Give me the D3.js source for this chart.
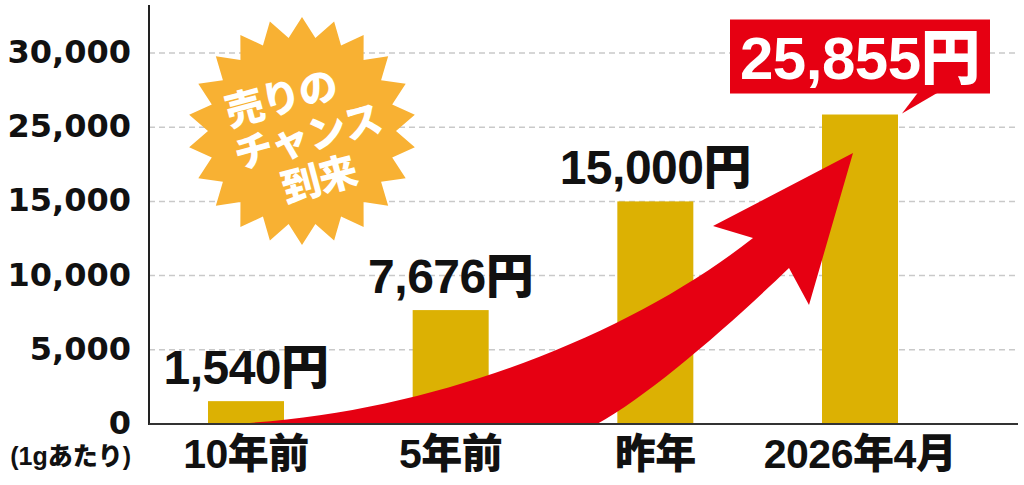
<!DOCTYPE html>
<html><head><meta charset="utf-8">
<script src="https://cdn.jsdelivr.net/npm/d3@7"></script>
<style>html,body{margin:0;padding:0;background:#fff;} svg{display:block}</style>
</head><body>
<svg id="chart" width="1024" height="485"></svg>
<script>
// ---- data ----
const categories = ["10年前", "5年前", "昨年", "2026年4月"];
const values = [1540, 7676, 15000, 25855];
const valueLabels = ["1,540円", "7,676円", "15,000円", "25,855円"];
const yTickValues = [0, 5000, 10000, 15000, 25000, 30000];
const yTickLabels = ["0", "5,000", "10,000", "15,000", "25,000", "30,000"];
const unitLabel = "(1gあたり)";
const burstLines = ["売りの", "チャンス", "到来"];

// ---- layout ----
const W = 1024, H = 485;
const axisX = 149, baseY = 424, topY = 5, rightX = 1018;
const tickStep = 74.2;
const barW = 76;
const GOLD = "#DCB103", RED = "#E60012", ORANGE = "#F8B133";
const LATIN = "'Liberation Sans', 'Noto Sans CJK JP', sans-serif";

const svg = d3.select("#chart");

const x = d3.scalePoint().domain(categories).range([246, 860]);
const y = d3.scaleLinear()
  .domain(yTickValues)
  .range(yTickValues.map((d, i) => baseY - i * tickStep));

// gridlines
svg.append("g").selectAll("line")
  .data(yTickValues.filter(d => d > 0))
  .join("line")
  .attr("x1", axisX).attr("x2", rightX)
  .attr("y1", d => y(d)).attr("y2", d => y(d))
  .attr("stroke", "#c9c9c9").attr("stroke-width", 1.5)
  .attr("stroke-dasharray", "6,4");

// starburst decoration
const cx = 302, cy = 131, R = 114, r = 94, N = 22;
const starPts = d3.range(2 * N).map(i => {
  const a = i * Math.PI / N - Math.PI / 2;
  const rr = i % 2 === 0 ? R : r;
  return [cx + rr * Math.cos(a), cy + rr * Math.sin(a)];
});
svg.append("path").attr("d", d3.line()(starPts) + "Z").attr("fill", ORANGE);
const burst = svg.append("g").attr("transform", `translate(${cx},${cy}) rotate(-15)`);
burst.selectAll("text").data(burstLines).join("text")
  .attr("x", (d, i) => i === 0 ? -12 : 4)
  .attr("y", (d, i) => -36 + i * 44 + 13)
  .attr("text-anchor", "middle")
  .attr("font-family", "'Noto Sans CJK JP', sans-serif")
  .attr("font-weight", 900).attr("font-size", 39)
  .attr("letter-spacing", -1)
  .attr("fill", "#fff")
  .text(d => d);

// bars
svg.append("g").selectAll("rect")
  .data(values)
  .join("rect")
  .attr("x", (d, i) => x(categories[i]) - barW / 2)
  .attr("width", barW)
  .attr("y", d => y(d))
  .attr("height", d => baseY - y(d))
  .attr("fill", GOLD);

// red arrow decoration (smooth bezier body + head)
const ap = d3.path();
ap.moveTo(230, 424);
ap.bezierCurveTo(430, 415, 630, 335, 753, 238);   // upper edge
ap.lineTo(713, 226);                               // left barb
ap.lineTo(853, 153);                               // tip
ap.lineTo(809, 305);                               // right barb
ap.lineTo(789, 268);
ap.bezierCurveTo(730, 325, 650, 395, 597, 424);    // lower edge
ap.closePath();
svg.append("path").attr("d", ap.toString()).attr("fill", RED);

// value labels (plain)
const lastIdx = values.length - 1;
svg.append("g").selectAll("text")
  .data(values.slice(0, lastIdx))
  .join("text")
  .attr("x", (d, i) => x(categories[i]))
  .attr("y", d => y(d) - 17)
  .attr("text-anchor", "middle")
  .attr("font-family", LATIN).attr("font-weight", 900).attr("font-size", 48)
  .attr("letter-spacing", -0.5)
  .attr("fill", "#111")
  .text((d, i) => valueLabels[i]);

// highlighted last value label
const lx = x(categories[lastIdx]), ltop = y(values[lastIdx]);
const boxW = 260, boxH = 74, boxBottom = ltop - 21;
const callout = svg.append("g");
callout.append("rect")
  .attr("x", lx - boxW / 2).attr("y", boxBottom - boxH)
  .attr("width", boxW).attr("height", boxH).attr("fill", RED);
callout.append("path")
  .attr("d", `M${lx + 58},${boxBottom - 1}L${lx + 78},${boxBottom - 1}L${lx + 42},${ltop - 1}Z`)
  .attr("fill", RED);
callout.append("text")
  .attr("x", lx).attr("y", boxBottom - 15)
  .attr("text-anchor", "middle")
  .attr("font-family", LATIN).attr("font-weight", 900).attr("font-size", 60)
  .attr("letter-spacing", -0.5)
  .attr("fill", "#fff")
  .text(valueLabels[lastIdx]);

// axes lines
svg.append("line").attr("x1", axisX).attr("x2", axisX).attr("y1", topY).attr("y2", baseY + 1)
  .attr("stroke", "#222").attr("stroke-width", 2);
svg.append("line").attr("x1", axisX).attr("x2", rightX).attr("y1", baseY).attr("y2", baseY)
  .attr("stroke", "#333").attr("stroke-width", 2);

// y tick labels
svg.append("g").selectAll("text")
  .data(yTickValues)
  .join("text")
  .attr("x", 131)
  .attr("y", d => y(d) + 10)
  .attr("text-anchor", "end")
  .attr("font-family", "'DejaVu Sans', sans-serif").attr("font-weight", 700).attr("font-size", 32)
  .attr("fill", "#111")
  .text((d, i) => yTickLabels[i]);

svg.append("text")
  .attr("x", 131).attr("y", 465)
  .attr("text-anchor", "end")
  .attr("font-family", LATIN).attr("font-weight", 900).attr("font-size", 25)
  .attr("fill", "#111")
  .text(unitLabel);

// x labels
svg.append("g").selectAll("text")
  .data(categories)
  .join("text")
  .attr("x", d => x(d))
  .attr("y", 468)
  .attr("text-anchor", "middle")
  .attr("font-family", LATIN).attr("font-weight", 900).attr("font-size", 41)
  .attr("letter-spacing", -0.5)
  .attr("fill", "#111")
  .text(d => d);
</script></body></html>
